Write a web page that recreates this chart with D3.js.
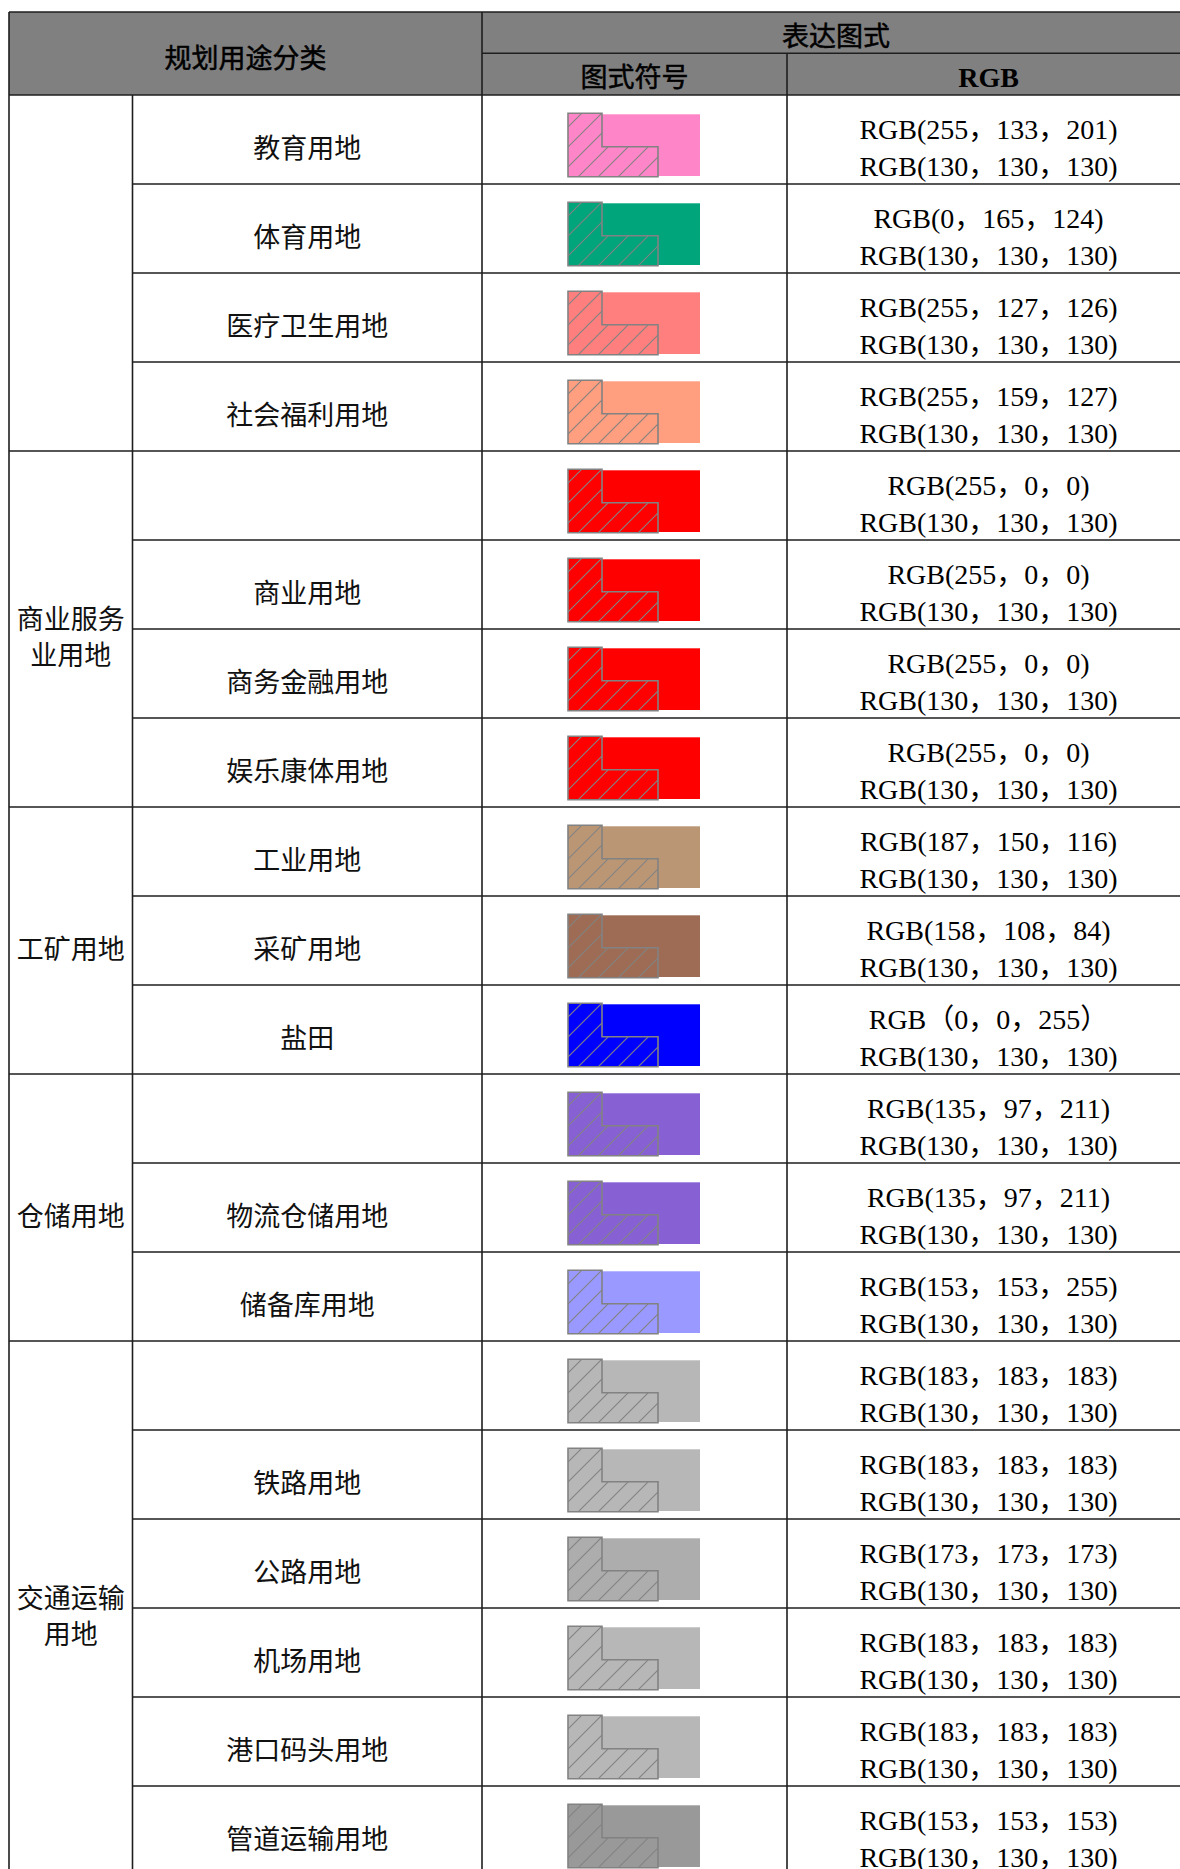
<!DOCTYPE html>
<html>
<head>
<meta charset="utf-8">
<script src="https://cdn.jsdelivr.net/npm/d3@7"></script>
<style>
    body { margin: 0; background: #fff; }
    svg { display: block; }
</style>
</head>
<body>
<svg id="legendTable" width="1180" height="1869"></svg>
<script>
const groupNames = ["", "商业服务\n业用地", "工矿用地", "仓储用地", "交通运输\n用地"];
const groupSpans = [4, 4, 3, 3, 6];
const landUses = [
    "教育用地", "体育用地", "医疗卫生用地", "社会福利用地",
    "", "商业用地", "商务金融用地", "娱乐康体用地",
    "工业用地", "采矿用地", "盐田",
    "", "物流仓储用地", "储备库用地",
    "", "铁路用地", "公路用地", "机场用地", "港口码头用地", "管道运输用地"
];
const fillColors = [
    "rgb(255,133,201)", "rgb(0,165,124)", "rgb(255,127,126)", "rgb(255,159,127)",
    "rgb(255,0,0)", "rgb(255,0,0)", "rgb(255,0,0)", "rgb(255,0,0)",
    "rgb(187,150,116)", "rgb(158,108,84)", "rgb(0,0,255)",
    "rgb(135,97,211)", "rgb(135,97,211)", "rgb(153,153,255)",
    "rgb(183,183,183)", "rgb(183,183,183)", "rgb(173,173,173)", "rgb(183,183,183)", "rgb(183,183,183)", "rgb(153,153,153)"
];
const rgbLabels = [
    "RGB(255，133，201)", "RGB(0，165，124)", "RGB(255，127，126)", "RGB(255，159，127)",
    "RGB(255，0，0)", "RGB(255，0，0)", "RGB(255，0，0)", "RGB(255，0，0)",
    "RGB(187，150，116)", "RGB(158，108，84)", "RGB（0，0，255）",
    "RGB(135，97，211)", "RGB(135，97，211)", "RGB(153，153，255)",
    "RGB(183，183，183)", "RGB(183，183，183)", "RGB(173，173，173)", "RGB(183，183，183)", "RGB(183，183，183)", "RGB(153，153，153)"
];
const outlineLabel = "RGB(130，130，130)";
const outlineColor = "rgb(130,130,130)";
const headers = {main: "规划用途分类", expr: "表达图式", symbol: "图式符号", rgb: "RGB"};

//Layout
const colX = [9, 132.5, 482, 787, 1190];
const yTop = 12, ySplit = 53.3, yHead = 95, rowH = 89;
const cjkFont = "'Noto Sans CJK SC', sans-serif";
const serifFont = "'Liberation Serif', 'Noto Sans CJK SC', serif";
const lineColor = "#1e1e1e";

let svg = d3.select("#legendTable");
let y = d3.scaleLinear()
    .domain([0, landUses.length])
    .range([yHead, yHead + rowH * landUses.length]);
let yBottom = y(landUses.length);

//Hatch pattern for the symbol
svg.append("defs").append("pattern")
    .attr("id", "hatch")
    .attr("patternUnits", "userSpaceOnUse")
    .attr("width", 20).attr("height", 20)
    .append("path")
    .attr("d", "M-5,5L5,-5M0,20L20,0M15,25L25,15")
    .attr("stroke", outlineColor)
    .attr("stroke-width", 1.1);

//Header background
svg.append("rect")
    .attr("x", colX[0]).attr("y", yTop)
    .attr("width", colX[4] - colX[0]).attr("height", yHead - yTop)
    .attr("fill", "#808080");

//Rows: symbol + texts
let rows = svg.append("g").selectAll("g")
    .data(landUses)
    .enter().append("g")
    .attr("transform", (d, i) => "translate(0," + y(i) + ")");

rows.append("rect")
    .attr("x", 568).attr("y", 19.3)
    .attr("width", 132).attr("height", 61.7)
    .attr("fill", (d, i) => fillColors[i]);

let lShape = "M568,18.3H602V51.7H658V81.7H568Z";
rows.append("path").attr("d", lShape).attr("fill", (d, i) => fillColors[i]);
rows.append("path").attr("d", lShape).attr("fill", "url(#hatch)");
rows.append("path").attr("d", lShape)
    .attr("fill", "none")
    .attr("stroke", outlineColor)
    .attr("stroke-width", 1.6);

rows.append("text")
    .attr("x", (colX[1] + colX[2]) / 2)
    .attr("y", rowH / 2 + 18)
    .attr("text-anchor", "middle")
    .attr("font-family", cjkFont)
    .attr("font-size", 27)
    .attr("fill", "#111")
    .text(d => d);

rows.append("text")
    .attr("x", (colX[3] + colX[4]) / 2)
    .attr("y", 44)
    .attr("text-anchor", "middle")
    .attr("font-family", serifFont)
    .attr("font-size", 28)
    .attr("fill", "#000")
    .text((d, i) => rgbLabels[i]);

rows.append("text")
    .attr("x", (colX[3] + colX[4]) / 2)
    .attr("y", 81)
    .attr("text-anchor", "middle")
    .attr("font-family", serifFont)
    .attr("font-size", 28)
    .attr("fill", "#000")
    .text(outlineLabel);

//Group labels in the first column, one text per line
let groupStart = d3.cumsum([0].concat(groupSpans.slice(0, -1)));
let groupLines = [];
groupNames.forEach((d, i) => {
    let parts = d.split("\n");
    let cy = (y(groupStart[i]) + y(groupStart[i] + groupSpans[i])) / 2 + 8;
    parts.forEach((t, k) => groupLines.push({text: t, y: cy + 10 + (k - (parts.length - 1) / 2) * 35.5}));
});
svg.append("g").selectAll("text")
    .data(groupLines)
    .enter().append("text")
    .attr("x", (colX[0] + colX[1]) / 2)
    .attr("y", d => d.y)
    .attr("text-anchor", "middle")
    .attr("font-family", cjkFont)
    .attr("font-size", 27)
    .attr("fill", "#111")
    .text(d => d.text);

//Header texts
let head = svg.append("g")
    .attr("font-family", cjkFont)
    .attr("font-size", 27)
    .attr("text-anchor", "middle")
    .attr("fill", "#000")
    .attr("stroke", "#000")
    .attr("stroke-width", 0.5);
head.append("text").attr("x", (colX[0] + colX[2]) / 2).attr("y", 67.5).text(headers.main);
head.append("text").attr("x", (colX[2] + colX[4]) / 2).attr("y", 46).text(headers.expr);
head.append("text").attr("x", (colX[2] + colX[3]) / 2).attr("y", 86.5).text(headers.symbol);
head.append("text").attr("x", (colX[3] + colX[4]) / 2).attr("y", 87)
    .attr("font-family", serifFont).attr("font-weight", "bold").attr("font-size", 28)
    .attr("stroke", "none")
    .text(headers.rgb);

//Grid lines
let lines = svg.append("g")
    .attr("stroke", lineColor)
    .attr("stroke-width", 1.6);
let groupEnds = new Set(d3.cumsum(groupSpans));
//horizontal row lines
landUses.forEach((d, i) => {
    let x0 = groupEnds.has(i + 1) ? colX[0] : colX[1];
    lines.append("line")
        .attr("x1", x0).attr("x2", colX[4])
        .attr("y1", y(i + 1)).attr("y2", y(i + 1));
});
[yTop, yHead].forEach(v => {
    lines.append("line").attr("x1", colX[0]).attr("x2", colX[4]).attr("y1", v).attr("y2", v);
});
lines.append("line").attr("x1", colX[2]).attr("x2", colX[4]).attr("y1", ySplit).attr("y2", ySplit);
//vertical lines
[[colX[0], yTop], [colX[1], yHead], [colX[2], yTop], [colX[3], ySplit]].forEach(v => {
    lines.append("line")
        .attr("x1", v[0]).attr("x2", v[0])
        .attr("y1", v[1]).attr("y2", yBottom);
});
</script>
</body>
</html>
